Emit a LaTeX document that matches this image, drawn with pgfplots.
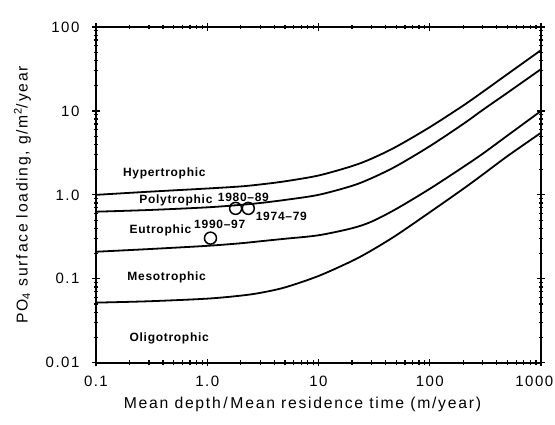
\documentclass[border=0pt]{standalone}
\usepackage{fontspec}
\setmainfont{Liberation Sans}
\newfontfamily\tickfont[LetterSpace=10]{Liberation Sans}
\newfontfamily\labfont[LetterSpace=11]{Liberation Sans}
\newfontfamily\zonefont[LetterSpace=6]{Liberation Sans}
\usepackage{pgfplots}
\pgfplotsset{compat=1.18}

\begin{document}
\begin{tikzpicture}
\begin{axis}[
  scale only axis,
  width=297pt, height=224pt,
  xmode=log, ymode=log,
  xmin=0.1, xmax=1000, ymin=0.01, ymax=100,
  xtick={0.1,1,10,100,1000},
  xticklabels={0.1,1.0,10,100,\hspace*{-9pt}1000},
  ytick={0.01,0.1,1,10,100},
  yticklabels={0.01,0.1,1.0,10,100},
  tick label style={font=\tickfont\fontsize{10}{12}\selectfont},
  yticklabel style={xshift=-5pt},
  xticklabel style={yshift=-3pt},
  tick align=center,
  major tick length=5pt, minor tick length=3pt,
  every tick/.style={black, line width=0.8pt},
  axis line style={line width=1.3pt},
  xlabel={Mean depth\,/\,Mean residence time (m/year)},
  ylabel={PO\textsubscript{4} surface loading, g/m\textsuperscript{2}/year},
  label style={font=\labfont\fontsize{10.5}{12}\selectfont},
  xlabel style={at={(axis description cs:0.464,-0.125)}, anchor=center},
  ylabel style={at={(axis description cs:-0.165,0.5)}, anchor=center},
  clip=false,
]
% trophic boundaries
\addplot[black, line width=1.2pt, smooth] coordinates {
  (0.1,1.0) (0.3,1.09) (1,1.19) (2,1.26) (3,1.33) (5,1.45) (10,1.7) (20,2.2)
  (30,2.7) (50,3.75) (100,6.4) (200,11.6) (300,16.9) (500,27.5) (1000,53)};
\addplot[black, line width=1.2pt, smooth] coordinates {
  (0.1,0.63) (0.3,0.66) (1,0.71) (2,0.76) (3,0.80) (5,0.87) (10,1.0) (20,1.28)
  (30,1.58) (50,2.2) (100,3.8) (200,7.0) (300,10.3) (500,16.5) (1000,31.5)};
\addplot[black, line width=1.2pt, smooth] coordinates {
  (0.1,0.21) (0.3,0.226) (1,0.247) (2,0.265) (3,0.28) (5,0.30) (10,0.33) (20,0.40)
  (30,0.48) (50,0.68) (100,1.18) (200,2.15) (300,3.1) (500,5.1) (1000,10)};
\addplot[black, line width=1.2pt, smooth] coordinates {
  (0.1,0.052) (0.3,0.054) (1,0.058) (2,0.063) (3,0.068) (5,0.079) (10,0.108) (20,0.163)
  (30,0.218) (50,0.33) (100,0.62) (200,1.18) (300,1.75) (500,2.9) (1000,5.5)};
% observations
\addplot[only marks, mark=o, mark size=4pt, line width=1pt, black,
  mark options={fill=white}] coordinates {(1.07,0.305) (1.8,0.69) (2.34,0.69)};

\begin{scope}[font=\zonefont\fontsize{8}{9}\selectfont\bfseries]
\node[anchor=west] at (axis cs:0.157,1.8) {Hypertrophic};
\node[anchor=west] at (axis cs:0.22,0.85) {Polytrophic};
\node[anchor=west, inner sep=0pt] at (axis cs:1.24,0.93) {1980–89};
\node[anchor=west, inner sep=0pt] at (axis cs:2.72,0.547) {1974–79};
\node[anchor=west] at (axis cs:0.18,0.373) {Eutrophic};
\node[anchor=west, inner sep=0pt] at (axis cs:0.76,0.44) {1990–97};
\node[anchor=west] at (axis cs:0.172,0.104) {Mesotrophic};
\node[anchor=west] at (axis cs:0.18,0.0196) {Oligotrophic};
\end{scope}

\coordinate (sw) at (rel axis cs:0,0);
\coordinate (ne) at (rel axis cs:1,1);
\end{axis}
\pgfresetboundingbox
\path ([shift={(-64pt,-41.3pt)}]sw) rectangle ([shift={(9.3pt,18pt)}]ne);
\end{tikzpicture}
\end{document}
